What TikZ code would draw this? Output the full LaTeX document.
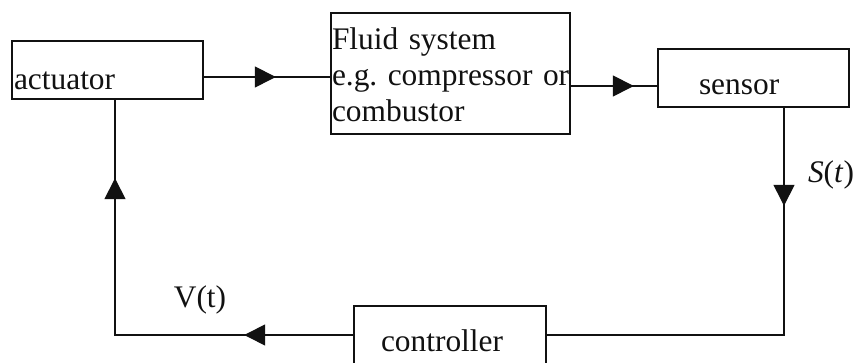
\documentclass[tikz,border=0pt]{standalone}
\usepackage{fontspec}
\setmainfont{Liberation Serif}
\usepackage{tikz}
\usetikzlibrary{arrows.meta,decorations.markings}
\definecolor{fcInk}{HTML}{111111}
\frenchspacing
\tikzset{
  fc diagram/.style={font=\fontsize{15.7pt}{18pt}\selectfont, text=fcInk,
    line join=miter},
  fc box/.style={draw=fcInk, fill=white, line width=0.8pt,
    inner ysep=0pt, align=left},
  fc line/.style={draw=fcInk, line width=0.7pt},
  fc tip/.style={postaction={decorate, decoration={markings,
    mark=at position #1 with {\arrow{Triangle[length=10.5pt,width=10.5pt]}}}}},
  fc label/.style={inner sep=0pt}
}
\begin{document}
\begin{tikzpicture}[fc diagram,x=0.5pt,y=0.5pt]
\useasboundingbox (0,0) rectangle (855,363);
% blocks of the loop
\node[fc box, inner xsep=1pt, text width=93.5pt, minimum height=29pt,
  text height=24.5pt, text depth=4.5pt] (act) at (107.5,293) {actuator};
\node[fc box, inner xsep=0.5pt, text width=118.5pt, minimum height=60.5pt,
  text height=18.5pt, text depth=42pt] (fluid) at (450.5,289.5)
  {Fluid system\\\mbox{e.g. compressor or}\\combustor};
\node[fc box, inner xsep=20.5pt, text width=54.5pt, minimum height=29pt,
  text height=23pt, text depth=6pt] (sensor) at (753.5,285) {sensor};
\node[fc box, inner xsep=13.5pt, text width=69pt, minimum height=29pt,
  text height=23pt, text depth=6pt] (ctrl) at (450,28) {controller};
% signal lines
\coordinate (actout) at ([yshift=-3.5pt]act.east);
\coordinate (fluidout) at ([yshift=-6.25pt]fluid.east);
\coordinate (sensout) at ([xshift=15.25pt]sensor.south);
\coordinate (actin) at ([xshift=3.75pt]act.south);
\draw[fc line, fc tip=36pt] (actout) -- (actout -| fluid.west);
\draw[fc line, fc tip=31.5pt] (fluidout) -- (fluidout -| sensor.west);
\draw[fc line, fc tip=49pt] (sensout) |- (ctrl.east);
\draw[fc line, fc tip=54.5pt, fc tip=197.5pt] (ctrl.west) -| (actin);
\node[fc label] (slabel) at (831,188) {\textit{S}(\textit{t})};
\node[fc label] (vlabel) at (200,63) {V(t)};
\end{tikzpicture}
\end{document}
